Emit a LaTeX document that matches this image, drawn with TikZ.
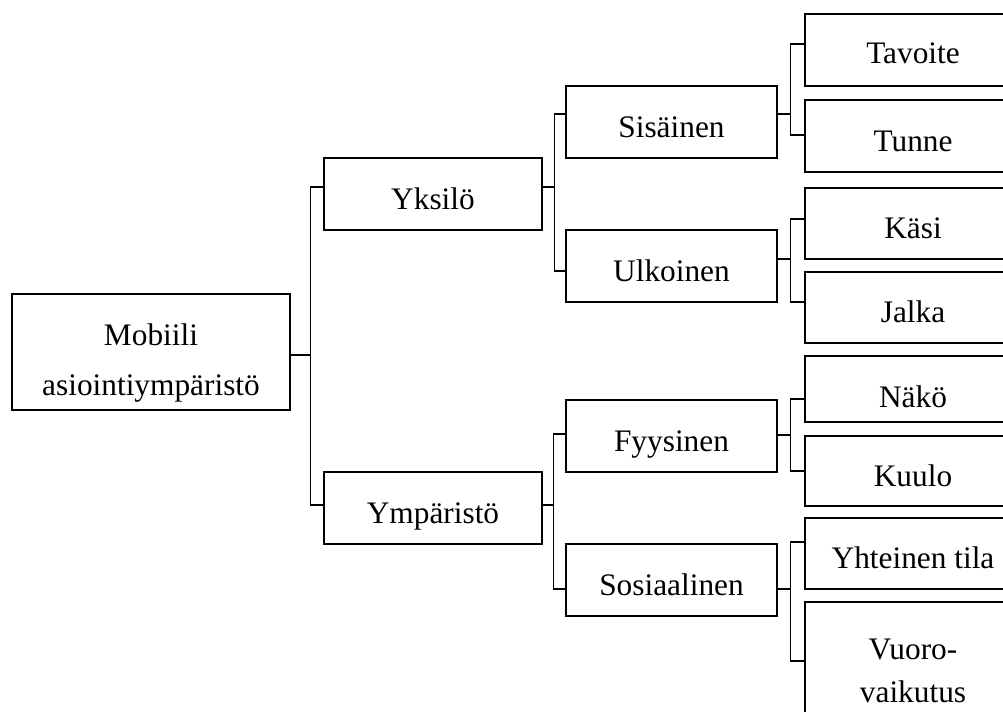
\documentclass[tikz,border=0pt]{standalone}
\usepackage{fontspec}
\setmainfont{Liberation Serif}
\usetikzlibrary{calc}

% elbow connector: parent east (with vertical offset) -> trunk -> child west (with offset)
\newcommand\treelink[5]{%
  \draw[conn] ($(#1.east)+(0,#2)$) -- ++(#3,0) |- ($(#4.west)+(0,#5)$);}

\begin{document}
\begin{tikzpicture}[x=0.75pt,y=-0.75pt,
  box/.style={draw, line width=1.1pt, inner sep=0pt,
    font=\fontsize{23.5}{27}\selectfont},
  lbox/.style={box, text height=22.5pt, text depth=0pt},
  lvl1/.style={lbox, minimum width=163.5pt, minimum height=54pt},
  lvl2/.style={lbox, minimum width=158.25pt, minimum height=54pt},
  leaf/.style={lbox, minimum width=162pt, minimum height=54pt},
  txt/.style={inner sep=0pt, align=center},
  conn/.style={line width=1.1pt},
]
\useasboundingbox (0,0) rectangle (1003,711);
\clip (0,0) rectangle (1003,711);

% root
\node[box, minimum width=208.5pt, minimum height=87pt] (root) at (151,352) {};
\node[txt, font=\fontsize{23.5}{37.5}\selectfont] (roottext) at (151,362.8)
  {Mobiili\\asiointiympäristö};

% first level
\node[lvl1] (yks) at (433,194) {Yksilö};
\node[lvl1] (ymp) at (433,508) {Ympäristö};

% second level
\node[lvl2] (sis) at (671.5,122) {Sisäinen};
\node[lvl2] (ulk) at (671.5,266) {Ulkoinen};
\node[lvl2] (fyy) at (671.5,436) {Fyysinen};
\node[lvl2] (sos) at (671.5,580) {Sosiaalinen};

% leaves
\node[leaf, text height=20pt] (tav) at (913,50) {Tavoite};
\node[leaf] (tun) at (913,136) {Tunne};
\node[leaf, minimum height=53.25pt] (kas) at (913,223.5) {Käsi};
\node[leaf, minimum height=53.25pt] (jal) at (913,307.5) {Jalka};
\node[leaf, minimum height=49.5pt, text height=28pt] (nak) at (913,389) {Näkö};
\node[leaf, minimum height=52.5pt] (kuu) at (913,471) {Kuulo};
\node[leaf, minimum height=53.25pt] (yht) at (913,553.5) {Yhteinen tila};
\node[box, minimum width=162pt, minimum height=96pt] (vuo) at (913,666) {};
\node[txt, font=\fontsize{23.5}{32.25}\selectfont] (vuotext) at (913,670.4)
  {Vuoro-\\vaikutus};

% connectors
\treelink{root}{3}{20}{yks}{-7}
\treelink{root}{3}{20}{ymp}{-3}
\treelink{yks}{-7}{12}{sis}{-8}
\treelink{yks}{-7}{12}{ulk}{5}
\treelink{ymp}{-3}{11}{fyy}{-2}
\treelink{ymp}{-3}{11}{sos}{9}
\treelink{sis}{-8}{13}{tav}{-6}
\treelink{sis}{-8}{13}{tun}{-1}
\treelink{ulk}{-7}{13}{kas}{-4.5}
\treelink{ulk}{-7}{13}{jal}{-5.5}
\treelink{fyy}{-1}{13}{nak}{10}
\treelink{fyy}{-1}{13}{kuu}{0}
\treelink{sos}{9}{13}{yht}{-11.5}
\treelink{sos}{9}{13}{vuo}{-5}
\end{tikzpicture}
\end{document}
